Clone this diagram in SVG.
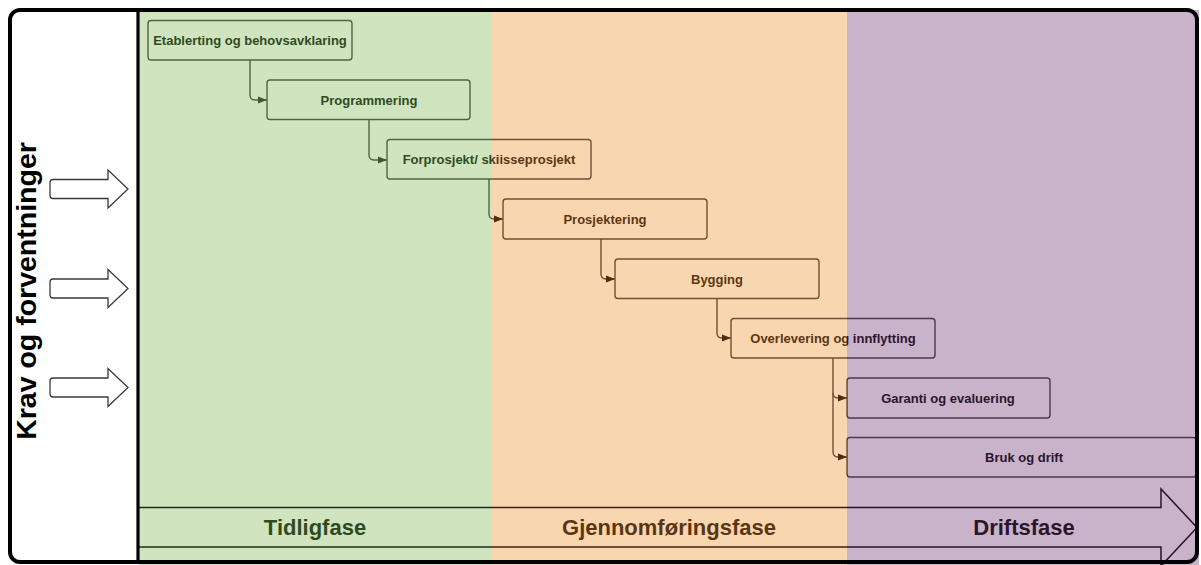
<svg xmlns="http://www.w3.org/2000/svg" width="1201" height="565" viewBox="0 0 1201 565">
  <defs>
    <linearGradient id="ink" gradientUnits="userSpaceOnUse" x1="0" y1="0" x2="1201" y2="0">
      <stop offset="0" stop-color="#2e4a1e"/>
      <stop offset="0.4097" stop-color="#2e4a1e"/>
      <stop offset="0.4097" stop-color="#5a3512"/>
      <stop offset="0.7052" stop-color="#5a3512"/>
      <stop offset="0.7052" stop-color="#2b1628"/>
      <stop offset="1" stop-color="#2b1628"/>
    </linearGradient>
    <linearGradient id="edge" gradientUnits="userSpaceOnUse" x1="0" y1="0" x2="1201" y2="0">
      <stop offset="0" stop-color="#4e663e"/>
      <stop offset="0.4097" stop-color="#4e663e"/>
      <stop offset="0.4097" stop-color="#6e5032"/>
      <stop offset="0.7052" stop-color="#6e5032"/>
      <stop offset="0.7052" stop-color="#4e374e"/>
      <stop offset="1" stop-color="#4e374e"/>
    </linearGradient>
    <linearGradient id="dark" gradientUnits="userSpaceOnUse" x1="0" y1="0" x2="1201" y2="0">
      <stop offset="0" stop-color="#1f2e16"/>
      <stop offset="0.4097" stop-color="#1f2e16"/>
      <stop offset="0.4097" stop-color="#3a2410"/>
      <stop offset="0.7052" stop-color="#3a2410"/>
      <stop offset="0.7052" stop-color="#24142a"/>
      <stop offset="1" stop-color="#24142a"/>
    </linearGradient>
    <marker id="ahG" markerUnits="userSpaceOnUse" markerWidth="10" markerHeight="8" refX="9" refY="4" orient="auto">
      <path d="M0,0.5 L9,4 L0,7.5 Z" fill="#3e5a2e"/>
    </marker>
    <marker id="ahB" markerUnits="userSpaceOnUse" markerWidth="10" markerHeight="8" refX="9" refY="4" orient="auto">
      <path d="M0,0.5 L9,4 L0,7.5 Z" fill="#4a2e14"/>
    </marker>
    <style>
      .node rect { fill: none; stroke: url(#edge); stroke-width: 1.4; }
      .node text { font-family: "Liberation Sans", Arial, sans-serif; font-weight: bold; font-size: 13px; fill: url(#ink); text-anchor: middle; }
      .conn { fill: none; stroke: url(#edge); stroke-width: 1.4; }
      .phase { font-family: "Liberation Sans", Arial, sans-serif; font-weight: bold; font-size: 22px; fill: url(#ink); text-anchor: middle; }
      .inarrow { fill: #ffffff; stroke: #3a3a3a; stroke-width: 1.3; stroke-linejoin: miter; }
    </style>
  </defs>

  <!-- backgrounds -->
  <g id="backgrounds">
    <rect x="10" y="10" width="129" height="553" fill="#ffffff"/>
    <rect x="139" y="10" width="353" height="555" fill="#d0e4c0"/>
    <rect x="492" y="10" width="355" height="555" fill="#f8d7b0"/>
    <rect x="847" y="10" width="352" height="555" fill="#c8b3cb"/>
  </g>

  <!-- phase timeline arrow -->
  <g id="timeline">
    <path d="M139,507.5 H1161 V489 L1197,527.5 L1161,566 V547 H139" fill="none" stroke="url(#dark)" stroke-width="1.5"/>
    <text class="phase" x="315" y="535">Tidligfase</text>
    <text class="phase" x="669" y="535">Gjennomføringsfase</text>
    <text class="phase" x="1024" y="535">Driftsfase</text>
  </g>

  <!-- connectors -->
  <g id="connectors">
    <path class="conn" d="M250,60 V95 Q250,100 255,100 H267" marker-end="url(#ahG)"/>
    <path class="conn" d="M369,120 V155 Q369,160 374,160 H387" marker-end="url(#ahG)"/>
    <path class="conn" d="M489,179 V214 Q489,219 494,219 H503" marker-end="url(#ahB)"/>
    <path class="conn" d="M601,239 V274 Q601,279 606,279 H615" marker-end="url(#ahB)"/>
    <path class="conn" d="M717,298 V333 Q717,338 722,338 H731" marker-end="url(#ahB)"/>
    <path class="conn" d="M833,358 V393 Q833,398 838,398 H847" marker-end="url(#ahB)"/>
    <path class="conn" d="M833,393 V452 Q833,457 838,457 H847" marker-end="url(#ahB)"/>
  </g>

  <!-- nodes -->
  <g id="n1" class="node">
    <rect x="148" y="20.5" width="204" height="39.5" rx="3"/>
    <text x="250" y="45">Etablerting og behovsavklaring</text>
  </g>
  <g id="n2" class="node">
    <rect x="267" y="80" width="203" height="39.5" rx="3"/>
    <text x="369" y="104.5">Programmering</text>
  </g>
  <g id="n3" class="node">
    <rect x="387" y="139.5" width="204" height="39.5" rx="3"/>
    <text x="489" y="164">Forprosjekt/ skiisseprosjekt</text>
  </g>
  <g id="n4" class="node">
    <rect x="503" y="199" width="204" height="40" rx="3"/>
    <text x="605" y="223.5">Prosjektering</text>
  </g>
  <g id="n5" class="node">
    <rect x="615" y="259" width="204" height="39.5" rx="3"/>
    <text x="717" y="283.5">Bygging</text>
  </g>
  <g id="n6" class="node">
    <rect x="731" y="318.5" width="204" height="39.5" rx="3"/>
    <text x="833" y="343">Overlevering og innflytting</text>
  </g>
  <g id="n7" class="node">
    <rect x="847" y="378" width="203" height="40" rx="3"/>
    <text x="948" y="402.5">Garanti og evaluering</text>
  </g>
  <g id="n8" class="node">
    <rect x="847" y="437.5" width="349" height="39.5" rx="3"/>
    <text x="1024" y="462">Bruk og drift</text>
  </g>

  <!-- left panel: requirements -->
  <g id="krav">
    <text x="36" y="291" transform="rotate(-90 36 291)" font-family="Liberation Sans, Arial, sans-serif" font-weight="bold" font-size="28.5" fill="#000000" text-anchor="middle">Krav og forventninger</text>
    <path class="inarrow" d="M53,179.5 H108 V170 L128,189 L108,208 V198.5 H53 Q50,198.5 50,195.5 V182.5 Q50,179.5 53,179.5 Z"/>
    <path class="inarrow" d="M53,279 H108 V269.5 L128,288.5 L108,307.5 V298 H53 Q50,298 50,295 V282 Q50,279 53,279 Z"/>
    <path class="inarrow" d="M53,378 H108 V368.5 L128,387.5 L108,406.5 V397 H53 Q50,397 50,394 V381 Q50,378 53,378 Z"/>
  </g>

  <!-- frame -->
  <g id="frame">
    <rect x="10" y="10" width="1187" height="552" rx="10" fill="none" stroke="#000000" stroke-width="4"/>
    <line x1="138" y1="10" x2="138" y2="563" stroke="#000000" stroke-width="3.2"/>
  </g>
</svg>
